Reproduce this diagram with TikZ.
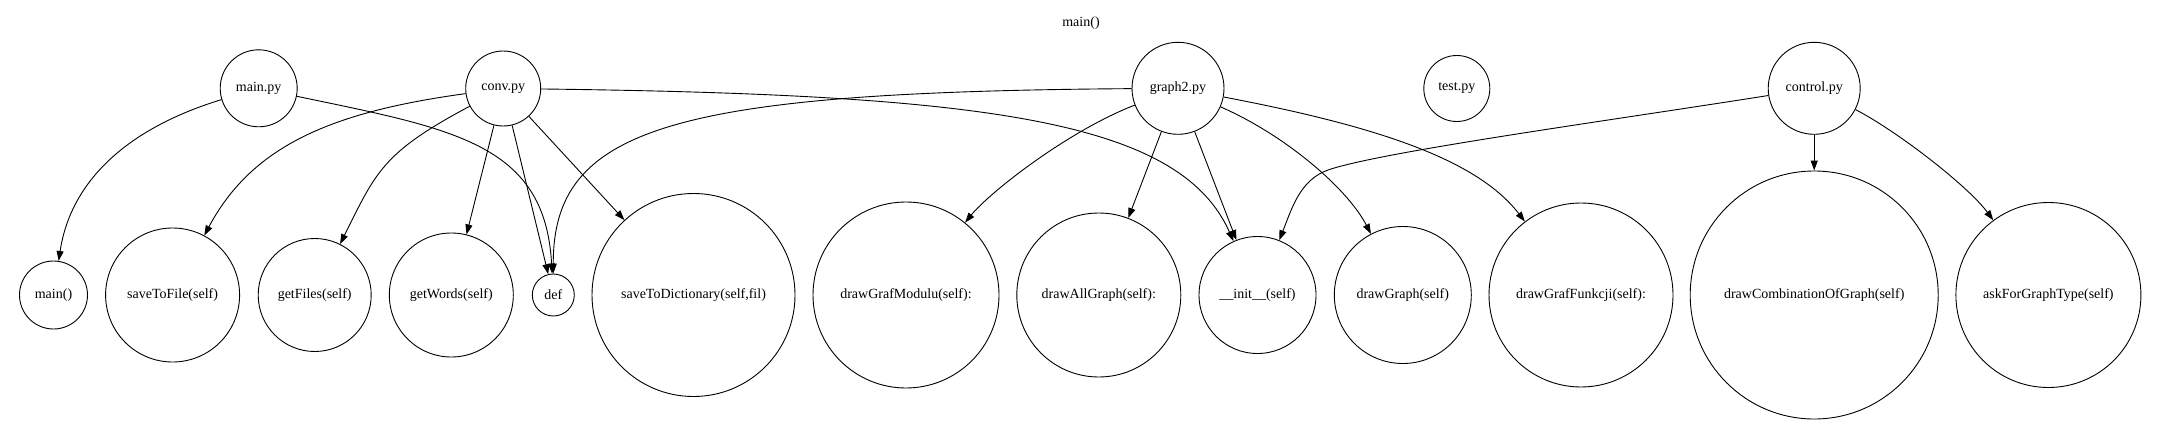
\documentclass[tikz,border=0pt]{standalone}
\usepackage{fontspec}
\setmainfont{Liberation Serif}
\usepackage{tikz}
\usetikzlibrary{arrows.meta,positioning}

\begin{document}
\begin{tikzpicture}[
    x=1pt, y=-1pt,
    every node/.style={font=\fontsize{14}{16}\selectfont},
    module/.style={circle, draw, line width=0.9pt, inner sep=0pt},
    func/.style={circle, draw, line width=0.9pt, inner sep=0pt},
    edge/.style={line width=0.9pt, -{Triangle[length=10pt,width=7pt]}}
]
\useasboundingbox (0,0) rectangle (2163,439);

\node (title) at (1081,23.5) {main()};

\node[module, minimum size=77pt] (mainpy) at (258.7,88.3) {main.py};
\node[module, minimum size=75pt] (convpy) at (503.2,88.5) {conv.py};
\node[module, minimum size=92pt] (graphpy) at (1178,88.3) {graph2.py};
\node[module, minimum size=66pt] (testpy) at (1456.8,88.5) {test.py};
\node[module, minimum size=92pt] (controlpy) at (1814.2,88.3) {control.py};

\node[func, minimum size=68pt] (mainfn) at (53.5,295) {main()};
\node[func, minimum size=134pt] (savefile) at (172.6,295) {saveToFile(self)};
\node[func, minimum size=113pt] (getfiles) at (314.7,295) {getFiles(self)};
\node[func, minimum size=124pt] (getwords) at (451.3,295) {getWords(self)};
\node[func, minimum size=42pt] (defn) at (553.3,295) {def};
\node[func, minimum size=203pt] (savedict) at (693.5,295) {saveToDictionary(self,fil)};
\node[func, minimum size=186pt] (grafmod) at (906,295) {drawGrafModulu(self):};
\node[func, minimum size=164pt] (allgraph) at (1098.8,295) {drawAllGraph(self):};
\node[func, minimum size=117pt] (initfn) at (1257.5,295) {\_\_init\_\_(self)};
\node[func, minimum size=137pt] (drawgraph) at (1402.8,295) {drawGraph(self)};
\node[func, minimum size=184pt] (graffunk) at (1581,295) {drawGrafFunkcji(self):};
\node[func, minimum size=248pt] (combo) at (1814.2,295) {drawCombinationOfGraph(self)};
\node[func, minimum size=185pt] (asktype) at (2048.4,295) {askForGraphType(self)};

\draw[edge] (mainpy) .. controls (130,127.5) and (71,179) .. (mainfn);
\draw[edge] (mainpy) .. controls (453,129) and (545,143) .. (defn);
\draw[edge] (convpy) .. controls (331,112) and (252,146) .. (savefile);
\draw[edge] (convpy) .. controls (382.5,152.5) and (376,172) .. (getfiles);
\draw[edge] (convpy) -- (getwords);
\draw[edge] (convpy) -- (defn);
\draw[edge] (convpy) -- (savedict);
\draw[edge] (convpy) .. controls (990,94.5) and (1180,121) .. (initfn);
\draw[edge] (graphpy) .. controls (670,92) and (553,128) .. (defn);
\draw[edge] (graphpy) .. controls (1068,131) and (990,192) .. (grafmod);
\draw[edge] (graphpy) -- (allgraph);
\draw[edge] (graphpy) -- (initfn);
\draw[edge] (graphpy) .. controls (1285,135) and (1347,188) .. (drawgraph);
\draw[edge] (graphpy) .. controls (1370.6,125) and (1476,157.7) .. (graffunk);
\draw[edge] (controlpy) .. controls (1600,122) and (1380,152) .. (1328,170)
    .. controls (1300,180) and (1292,208) .. (initfn);
\draw[edge] (controlpy) -- (combo);
\draw[edge] (controlpy) .. controls (1897,131) and (1968,186) .. (asktype);
\end{tikzpicture}
\end{document}
